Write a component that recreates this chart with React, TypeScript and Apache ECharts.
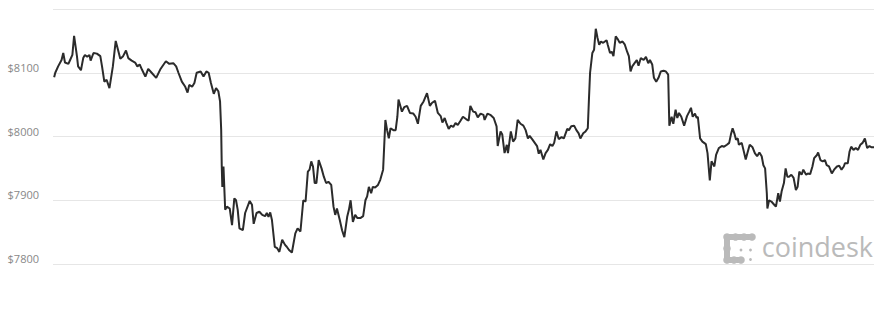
import React, { useEffect, useRef } from "react";
import * as echarts from "echarts";

// minutes since start of the 24h window
const minutes = [
  2, 4, 9, 15, 18, 21, 27, 30, 34, 37,
  42, 44, 49, 53, 56, 60, 64, 66, 71, 77,
  83, 86, 90, 94, 99, 105, 110, 114, 118, 123,
  128, 132, 138, 144, 148, 152, 156, 162, 167, 173,
  181, 188, 194, 198, 204, 211, 216, 220, 226, 232,
  236, 239, 244, 248, 252, 259, 264, 269, 273, 277,
  282, 286, 290, 293, 295, 296, 297, 299, 302, 305,
  310, 314, 318, 321, 324, 327, 333, 337, 345, 349,
  352, 357, 362, 367, 372, 375, 378, 381, 384, 389,
  393, 397, 402, 407, 410, 414, 419, 425, 429, 434,
  439, 443, 447, 450, 453, 456, 459, 462, 466, 471,
  475, 479, 483, 488, 492, 495, 498, 503, 507, 511,
  516, 519, 522, 526, 530, 534, 539, 544, 548, 551,
  554, 558, 561, 565, 570, 574, 579, 583, 586, 589,
  592, 597, 601, 604, 606, 612, 616, 621, 626, 632,
  636, 640, 645, 650, 656, 661, 665, 670, 675, 680,
  683, 687, 690, 694, 698, 702, 706, 710, 715, 719,
  725, 729, 732, 737, 741, 745, 750, 755, 757, 762,
  767, 773, 778, 780, 785, 788, 792, 796, 798, 803,
  807, 811, 815, 820, 825, 829, 833, 836, 841, 845,
  849, 852, 855, 860, 864, 868, 872, 876, 879, 883,
  887, 892, 896, 902, 905, 909, 914, 918, 922, 925,
  930, 934, 938, 940, 942, 946, 949, 952, 955, 958,
  961, 965, 971, 973, 977, 980, 983, 987, 991, 994,
  999, 1003, 1007, 1010, 1013, 1016, 1020, 1024, 1027, 1031,
  1036, 1040, 1044, 1047, 1051, 1054, 1058, 1062, 1066, 1071,
  1075, 1079, 1081, 1085, 1088, 1092, 1095, 1098, 1102, 1107,
  1112, 1116, 1119, 1122, 1126, 1129, 1131, 1135, 1139, 1145,
  1148, 1152, 1155, 1160, 1163, 1168, 1173, 1177, 1182, 1186,
  1189, 1192, 1195, 1198, 1201, 1203, 1208, 1211, 1215, 1218,
  1222, 1227, 1231, 1235, 1239, 1243, 1246, 1249, 1252, 1253,
  1256, 1260, 1265, 1268, 1272, 1275, 1278, 1282, 1285, 1288,
  1291, 1295, 1299, 1303, 1306, 1309, 1313, 1316, 1321, 1324,
  1328, 1332, 1335, 1340, 1342, 1346, 1350, 1354, 1357, 1361,
  1366, 1370, 1375, 1379, 1383, 1387, 1389, 1394, 1397, 1400,
  1404, 1408, 1412, 1416, 1420, 1424, 1428, 1432, 1436, 1440,
];

// BTC price in USD
const prices = [
  8093, 8100, 8110, 8120, 8131, 8116, 8114, 8120, 8128, 8158,
  8126, 8110, 8104, 8123, 8128, 8125, 8128, 8119, 8131, 8130,
  8126, 8110, 8086, 8089, 8076, 8110, 8150, 8136, 8122, 8126,
  8135, 8123, 8119, 8116, 8110, 8113, 8105, 8094, 8106, 8100,
  8092, 8105, 8113, 8118, 8114, 8115, 8110, 8100, 8086, 8078,
  8069, 8081, 8078, 8084, 8100, 8102, 8094, 8102, 8100, 8084,
  8067, 8076, 8071, 8055, 8010, 7953, 7921, 7953, 7885, 7890,
  7887, 7861, 7903, 7900, 7885, 7856, 7853, 7880, 7899, 7893,
  7863, 7880, 7882, 7877, 7875, 7880, 7874, 7881, 7869, 7827,
  7825, 7819, 7838, 7830, 7827, 7822, 7818, 7848, 7856, 7851,
  7900, 7898, 7945, 7948, 7961, 7953, 7927, 7927, 7963, 7950,
  7937, 7927, 7929, 7924, 7890, 7877, 7887, 7869, 7853, 7842,
  7874, 7885, 7900, 7866, 7877, 7872, 7872, 7875, 7900, 7906,
  7921, 7911, 7921, 7920, 7924, 7932, 7948, 8026, 8010, 7997,
  8013, 8010, 8010, 8031, 8058, 8039, 8046, 8048, 8037, 8036,
  8031, 8020, 8048, 8055, 8068, 8048, 8053, 8056, 8037, 8032,
  8022, 8029, 8021, 8012, 8017, 8015, 8021, 8018, 8025, 8031,
  8027, 8025, 8048, 8039, 8038, 8030, 8036, 8034, 8026, 8036,
  8034, 8029, 8016, 7985, 8008, 8003, 7974, 7987, 7974, 8008,
  7992, 7997, 8026, 8020, 8017, 8010, 7997, 8001, 7995, 7990,
  7985, 7973, 7979, 7964, 7974, 7979, 7988, 7985, 7990, 8008,
  7996, 7999, 7997, 8012, 8010, 8016, 8017, 8010, 8005, 7997,
  8005, 8008, 8013, 8058, 8100, 8131, 8136, 8169, 8155, 8144,
  8149, 8147, 8151, 8144, 8131, 8133, 8126, 8157, 8152, 8147,
  8149, 8144, 8133, 8126, 8102, 8110, 8115, 8120, 8111, 8123,
  8120, 8125, 8115, 8120, 8113, 8092, 8086, 8092, 8102, 8103,
  8102, 8097, 8017, 8031, 8020, 8042, 8029, 8037, 8031, 8017,
  8032, 8039, 8045, 8031, 8036, 8029, 8031, 7997, 7992, 7988,
  7974, 7931, 7961, 7953, 7971, 7982, 7985, 7984, 7987, 7990,
  8003, 8013, 8005, 7995, 7997, 7987, 7990, 7979, 7964, 7974,
  7987, 7983, 7974, 7969, 7975, 7969, 7955, 7950, 7911, 7887,
  7900, 7898, 7893, 7890, 7911, 7898, 7914, 7927, 7950, 7937,
  7937, 7940, 7935, 7916, 7921, 7945, 7940, 7948, 7940, 7942,
  7941, 7953, 7966, 7971, 7975, 7963, 7961, 7963, 7955, 7953,
  7942, 7948, 7953, 7954, 7948, 7953, 7958, 7958, 7976, 7984,
  7979, 7982, 7979, 7987, 7990, 7997, 7982, 7985, 7983, 7983,
];

const yMin = 7800;
const yMax = 8200;
const yStep = 100;
const hiddenTick = 8200;
const brand = "coindesk";

export default function App() {
  const ref = useRef<HTMLDivElement>(null);

  useEffect(() => {
    if (!ref.current) return;
    const chart = echarts.init(ref.current, null, { renderer: "svg" });
    const n = Math.min(minutes.length, prices.length);
    const data = [] as number[][];
    for (let i = 0; i < n; i++) data.push([minutes[i], prices[i]]);
    const logo = "#bababa";
    const bead = (x: number, y: number, r: number) => ({
      type: "circle",
      shape: { cx: x, cy: y, r },
      style: { fill: logo },
      silent: true,
    });
    const bar = (x1: number, y1: number, x2: number, y2: number) => ({
      type: "line",
      shape: { x1, y1, x2, y2 },
      style: { stroke: logo, lineWidth: 6, lineCap: "round" },
      silent: true,
    });

    chart.setOption({
      animation: false,
      backgroundColor: "#ffffff",
      grid: { left: 53, right: 0, top: 9, bottom: 62 },
      xAxis: { type: "value", min: 0, max: 1440, show: false },
      yAxis: {
        type: "value",
        min: yMin,
        max: yMax,
        interval: yStep,
        axisLine: { show: false },
        axisTick: { show: false },
        splitLine: { lineStyle: { color: "#e6e6e6", width: 1 } },
        axisLabel: {
          formatter: (v: number) => (v === hiddenTick ? "" : "$" + v),
          color: "#888888",
          fontFamily: "Open Sans",
          fontSize: 11,
          margin: 14,
          verticalAlign: "bottom",
        },
      },
      series: [
        {
          type: "line",
          data,
          showSymbol: false,
          symbol: "none",
          lineStyle: { color: "#2b2b2b", width: 2 },
          z: 3,
        },
      ],
      graphic: [
        bar(727, 237, 727, 260),
        bar(727, 237, 752, 237),
        bar(727, 260, 741, 260),
        bead(727, 237, 3.8),
        bead(735.5, 237, 3.8),
        bead(744, 237, 3.8),
        bead(752, 237, 3.8),
        bead(727, 248.5, 3.8),
        bead(727, 260, 3.8),
        bead(734, 260, 3.8),
        bead(741, 260, 3.8),
        bead(741, 250, 1.4),
        bead(750.5, 250, 1.4),
        bead(750.5, 259.5, 1.4),
        {
          type: "text",
          x: 873,
          y: 260,
          silent: true,
          style: {
            text: brand,
            fill: logo,
            font: "normal 27px 'Open Sans'",
            align: "right",
            verticalAlign: "bottom",
          },
        },
      ],
    });
    return () => chart.dispose();
  }, []);

  return (
    <div
      ref={ref}
      style={{ position: "fixed", left: 0, top: 0, width: 874, height: 326 }}
    />
  );
}
